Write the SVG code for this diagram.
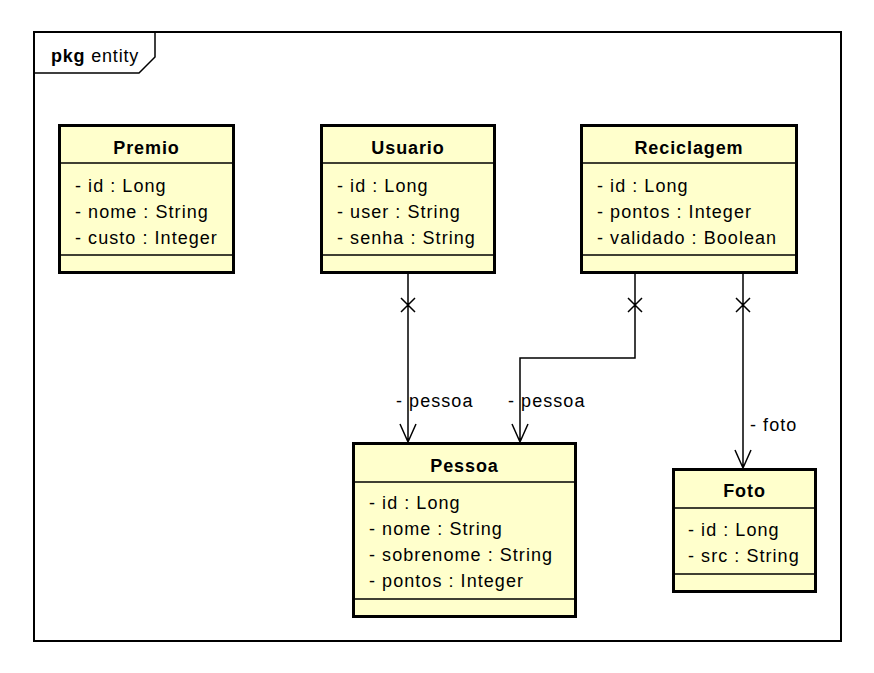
<svg xmlns="http://www.w3.org/2000/svg" width="874" height="673" viewBox="0 0 874 673">
<style>
text{font-family:"Liberation Sans",Arial,sans-serif;font-size:18px;letter-spacing:1.05px;fill:#000}
.t{font-weight:bold;text-anchor:middle;letter-spacing:0.9px}
.box{fill:#ffffcc;stroke:#000;stroke-width:3}
.sep{stroke:#000;stroke-width:1.5}
.c{fill:none;stroke:#000;stroke-width:1.5}
</style>
<rect width="874" height="673" fill="#fff"/>
<g id="frame">
<rect x="34" y="32" width="807" height="609" fill="none" stroke="#000" stroke-width="2"/>
<path d="M34,73 H139 L155,57 V32" fill="none" stroke="#000" stroke-width="1.5"/>
<text x="51" y="62" style="letter-spacing:0.8px"><tspan font-weight="bold">pkg</tspan> entity</text>
</g>
<g id="Premio">
<rect class="box" x="59.5" y="125.5" width="174" height="147"/>
<line class="sep" x1="59" y1="163" x2="234" y2="163"/>
<line class="sep" x1="59" y1="255" x2="234" y2="255"/>
<text class="t" x="146.5" y="154">Premio</text>
<text x="75" y="192">- id : Long</text>
<text x="75" y="218">- nome : String</text>
<text x="75" y="244">- custo : Integer</text>
</g>
<g id="Usuario">
<rect class="box" x="321.5" y="125.5" width="173" height="147"/>
<line class="sep" x1="321" y1="163" x2="495" y2="163"/>
<line class="sep" x1="321" y1="255" x2="495" y2="255"/>
<text class="t" x="408" y="154">Usuario</text>
<text x="337" y="192">- id : Long</text>
<text x="337" y="218">- user : String</text>
<text x="337" y="244">- senha : String</text>
</g>
<g id="Reciclagem">
<rect class="box" x="581.5" y="125.5" width="215" height="147"/>
<line class="sep" x1="581" y1="163" x2="797" y2="163"/>
<line class="sep" x1="581" y1="255" x2="797" y2="255"/>
<text class="t" x="689" y="154">Reciclagem</text>
<text x="597" y="192">- id : Long</text>
<text x="597" y="218">- pontos : Integer</text>
<text x="597" y="244">- validado : Boolean</text>
</g>
<g id="Pessoa">
<rect class="box" x="353.5" y="443.5" width="222" height="173"/>
<line class="sep" x1="353" y1="482" x2="576" y2="482"/>
<line class="sep" x1="353" y1="599" x2="576" y2="599"/>
<text class="t" x="464.5" y="472">Pessoa</text>
<text x="369" y="509">- id : Long</text>
<text x="369" y="535">- nome : String</text>
<text x="369" y="561">- sobrenome : String</text>
<text x="369" y="587">- pontos : Integer</text>
</g>
<g id="Foto">
<rect class="box" x="673.5" y="469.5" width="142" height="122"/>
<line class="sep" x1="673" y1="508" x2="816" y2="508"/>
<line class="sep" x1="673" y1="574" x2="816" y2="574"/>
<text class="t" x="744.5" y="497">Foto</text>
<text x="688" y="536">- id : Long</text>
<text x="688" y="562">- src : String</text>
</g>
<g id="connectors">
<path class="c" d="M408,274 V442 M400,424 L408,442 L416,424 M401,298 L415,312 M415,298 L401,312"/>
<path class="c" d="M635,274 V358 H520 V442 M512,424 L520,442 L528,424 M628,298 L642,312 M642,298 L628,312"/>
<path class="c" d="M743,274 V468 M735,450 L743,468 L751,450 M736,298 L750,312 M750,298 L736,312"/>
<text x="396" y="407">- pessoa</text>
<text x="508" y="407">- pessoa</text>
<text x="750" y="431">- foto</text>
</g>
</svg>
